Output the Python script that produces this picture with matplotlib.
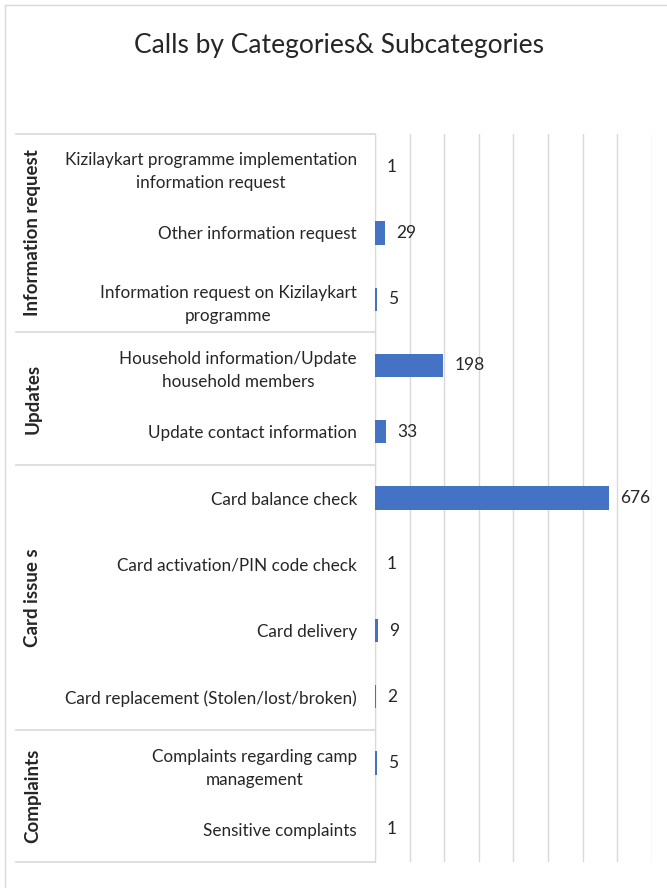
import matplotlib.pyplot as plt
import matplotlib.transforms as mtransforms
from matplotlib.lines import Line2D

# data
subcategories = [
    "Kizilaykart programme implementation\ninformation request",
    "Other information request",
    "Information request on Kizilaykart\nprogramme",
    "Household information/Update\nhousehold members",
    "Update contact information",
    "Card balance check",
    "Card activation/PIN code check",
    "Card delivery",
    "Card replacement (Stolen/lost/broken)",
    "Complaints regarding camp\nmanagement",
    "Sensitive complaints",
]
calls = [1, 29, 5, 198, 33, 676, 1, 9, 2, 5, 1]
groups = ["Information request", "Updates", "Card issue s", "Complaints"]
group_sizes = [3, 2, 4, 2]

plt.rcParams["font.family"] = ["Lato", "DejaVu Sans"]

W, H = 667, 888
fig = plt.figure(figsize=(W / 100, H / 100), dpi=100)
ax = fig.add_axes([375 / W, 25.6 / H, (651.7 - 375) / W, (862.4 - 133.6) / H])

y = list(range(len(calls)))
bars = ax.barh(y, calls, height=0.35, color="#4472C4", zorder=3)
ax.bar_label(bars, labels=[str(v) for v in calls], padding=8, fontsize=12.5, color="#262626")

ax.set_xlim(0, 800)
ax.set_ylim(len(calls) - 0.5, -0.5)
ax.set_xticks(range(0, 801, 100))
ax.tick_params(axis="x", length=0, labelbottom=False)
ax.grid(axis="x", color="#D9D9D9", linewidth=1, zorder=0)

ax.set_yticks(y)
ax.set_yticklabels(subcategories, fontsize=12.3, color="#262626", linespacing=1.55)
ax.tick_params(axis="y", length=0, pad=13)
for lab in ax.get_yticklabels():
    lab.set_multialignment("center")

for s in ["top", "right", "bottom"]:
    ax.spines[s].set_visible(False)
ax.spines["left"].set_color("#D9D9D9")

# group separators and group labels on the left
trans = mtransforms.blended_transform_factory(ax.transAxes, ax.transData)
x_left = (16 - 375) / (651.7 - 375)
x_grp = (33 - 375) / (651.7 - 375)
start = 0
bounds = [-0.5]
for g, n in zip(groups, group_sizes):
    mid = start + (n - 1) / 2
    ax.text(x_grp, mid, g, transform=trans, rotation=90, ha="center", va="center",
            fontsize=13.5, fontweight="bold", color="#262626")
    start += n
    bounds.append(start - 0.5)
for b in bounds:
    ax.add_line(Line2D([x_left, 0], [b, b], transform=trans, color="#D9D9D9",
                       linewidth=1.2, clip_on=False))

fig.text(339.5 / W, 1 - 45 / H, "Calls by Categories& Subcategories",
         ha="center", va="center", fontsize=19, color="#262626")

# outer chart border (left and top visible)
fig.add_artist(Line2D([5 / W, 5 / W], [0, 1 - 5 / H], transform=fig.transFigure,
                      color="#D9D9D9", linewidth=1))
fig.add_artist(Line2D([5 / W, 1], [1 - 5 / H, 1 - 5 / H], transform=fig.transFigure,
                      color="#D9D9D9", linewidth=1))

fig.savefig("out.png", dpi=100)
